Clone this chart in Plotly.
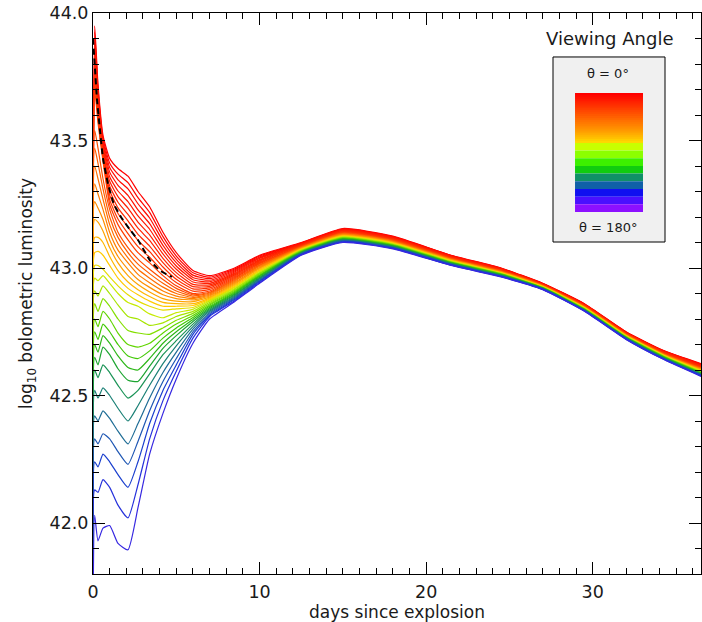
import plotly.graph_objects as go

# ---------------- data ----------------
days = [0.0, 0.1, 0.3, 0.6, 1.0, 1.5, 2.1, 2.7, 3.4, 4.2, 5.0, 6.0, 7.0, 8.5,
        10.0, 12.5, 15.0, 18.0, 21.5, 24.5, 27.0, 29.5, 32.0, 34.3, 36.5]

# log10 L at each day, one value per viewing-angle bin (theta = 0 first ... theta = 180 last)
lum_at_0_0 = [41.6, 41.6, 41.6, 41.6, 41.6, 41.6, 41.6, 41.6, 41.6, 41.6, 41.6, 41.6,
              41.6, 41.6, 41.6, 41.6, 41.6, 41.6, 41.6, 41.6, 41.6, 41.6, 41.6, 41.6,
              41.6, 41.6, 41.6, 41.6, 41.6, 41.6, 41.6, 41.6, 41.6, 41.6]
lum_at_0_1 = [43.95, 43.925, 43.90, 43.875, 43.85, 43.825, 43.80, 43.775, 43.75, 43.725, 43.70,
              43.54, 43.47, 43.40, 43.33, 43.26, 43.19, 43.12, 43.06, 43.01,
              42.96, 42.91, 42.86, 42.80, 42.75, 42.70, 42.65, 42.60, 42.52, 42.42, 42.33, 42.24, 42.13, 42.03]
lum_at_0_3 = [43.72, 43.705, 43.69, 43.675, 43.66, 43.645, 43.63, 43.615, 43.60, 43.585, 43.57,
              43.47, 43.41, 43.35, 43.29, 43.235, 43.18, 43.12, 43.065, 43.01,
              42.95, 42.89, 42.83, 42.77, 42.72, 42.67, 42.62, 42.57, 42.49, 42.40, 42.31, 42.22, 42.12, 41.93]
lum_at_0_6 = [43.52, 43.51, 43.50, 43.49, 43.48, 43.47, 43.46, 43.45, 43.44, 43.43, 43.42,
              43.35, 43.31, 43.27, 43.23, 43.19, 43.145, 43.10, 43.05, 42.995,
              42.97, 42.93, 42.88, 42.83, 42.78, 42.735, 42.69, 42.62, 42.53, 42.44, 42.35, 42.27, 42.17, 41.98]
lum_at_1_0 = [43.43, 43.412, 43.394, 43.376, 43.358, 43.34, 43.322, 43.304, 43.286, 43.268, 43.25,
              43.23, 43.20, 43.17, 43.14, 43.11, 43.08, 43.045, 43.01, 42.965,
              42.94, 42.90, 42.85, 42.80, 42.75, 42.705, 42.66, 42.59, 42.50, 42.41, 42.33, 42.24, 42.14, 41.99]
lum_at_1_5 = [43.39, 43.368, 43.346, 43.324, 43.302, 43.28, 43.258, 43.236, 43.214, 43.192, 43.17,
              43.14, 43.12, 43.095, 43.07, 43.045, 43.02, 42.99, 42.96, 42.93,
              42.90, 42.855, 42.80, 42.745, 42.70, 42.655, 42.605, 42.54, 42.45, 42.36, 42.28, 42.19, 42.07, 41.92]
lum_at_2_1 = [43.36, 43.335, 43.31, 43.285, 43.26, 43.235, 43.21, 43.185, 43.16, 43.135, 43.11,
              43.08, 43.06, 43.04, 43.02, 42.995, 42.97, 42.945, 42.92, 42.895,
              42.865, 42.81, 42.755, 42.70, 42.655, 42.61, 42.56, 42.49, 42.40, 42.31, 42.23, 42.14, 42.02, 41.895]
lum_at_2_7 = [43.30, 43.276, 43.252, 43.228, 43.204, 43.18, 43.156, 43.132, 43.108, 43.084, 43.06,
              43.035, 43.015, 42.995, 42.975, 42.955, 42.935, 42.915, 42.895, 42.87,
              42.85, 42.80, 42.745, 42.69, 42.645, 42.60, 42.555, 42.52, 42.46, 42.39, 42.32, 42.24, 42.15, 42.06]
lum_at_3_4 = [43.24, 43.218, 43.196, 43.174, 43.152, 43.13, 43.108, 43.086, 43.064, 43.042, 43.02,
              42.995, 42.978, 42.96, 42.942, 42.924, 42.906, 42.888, 42.87, 42.85,
              42.82, 42.775, 42.74, 42.705, 42.675, 42.645, 42.615, 42.585, 42.54, 42.49, 42.44, 42.39, 42.33, 42.27]
lum_at_4_2 = [43.14, 43.123, 43.106, 43.089, 43.072, 43.055, 43.038, 43.021, 43.004, 42.987, 42.97,
              42.955, 42.94, 42.925, 42.91, 42.895, 42.88, 42.865, 42.85, 42.835,
              42.805, 42.785, 42.765, 42.745, 42.725, 42.705, 42.685, 42.66, 42.625, 42.59, 42.555, 42.52, 42.48, 42.43]
lum_at_5_0 = [43.06, 43.047, 43.034, 43.021, 43.008, 42.995, 42.982, 42.969, 42.956, 42.943, 42.93,
              42.92, 42.91, 42.90, 42.89, 42.88, 42.87, 42.86, 42.85, 42.84,
              42.825, 42.81, 42.795, 42.78, 42.765, 42.75, 42.735, 42.715, 42.695, 42.67, 42.645, 42.62, 42.595, 42.565]
lum_at_6_0 = [42.99, 42.981, 42.972, 42.963, 42.954, 42.945, 42.936, 42.927, 42.918, 42.909, 42.90,
              42.895, 42.89, 42.885, 42.88, 42.875, 42.868, 42.86, 42.853, 42.845,
              42.838, 42.83, 42.822, 42.814, 42.806, 42.798, 42.79, 42.78, 42.77, 42.76, 42.75, 42.74, 42.725, 42.705]
lum_at_7_0 = [42.97, 42.964, 42.958, 42.952, 42.946, 42.94, 42.934, 42.928, 42.922, 42.916, 42.91,
              42.905, 42.902, 42.898, 42.894, 42.89, 42.886, 42.882, 42.878, 42.874,
              42.87, 42.865, 42.86, 42.855, 42.85, 42.845, 42.84, 42.835, 42.83, 42.825, 42.82, 42.815, 42.81, 42.80]
lum_at_8_5 = [43.00, 42.996, 42.992, 42.988, 42.984, 42.98, 42.976, 42.972, 42.968, 42.964, 42.96,
              42.956, 42.952, 42.948, 42.944, 42.94, 42.936, 42.932, 42.928, 42.924,
              42.92, 42.916, 42.912, 42.908, 42.904, 42.90, 42.896, 42.892, 42.888, 42.884, 42.88, 42.876, 42.872, 42.868]
lum_at_10_0 = [43.050, 43.047, 43.043, 43.040, 43.037, 43.033, 43.030, 43.027, 43.023, 43.020, 43.017,
               43.013, 43.010, 43.007, 43.003, 43.000, 42.997, 42.993, 42.990, 42.987,
               42.983, 42.980, 42.977, 42.973, 42.970, 42.967, 42.963, 42.960, 42.957, 42.953, 42.950, 42.947, 42.943, 42.940]
lum_at_12_5 = [43.100, 43.098, 43.097, 43.095, 43.094, 43.092, 43.091, 43.089, 43.088, 43.086, 43.085,
               43.083, 43.082, 43.080, 43.079, 43.077, 43.076, 43.074, 43.073, 43.071,
               43.070, 43.068, 43.067, 43.065, 43.064, 43.062, 43.061, 43.059, 43.058, 43.056, 43.055, 43.053, 43.052, 43.050]
lum_at_15_0 = [43.155, 43.153, 43.152, 43.150, 43.148, 43.147, 43.145, 43.143, 43.142, 43.140, 43.138,
               43.137, 43.135, 43.133, 43.132, 43.130, 43.128, 43.127, 43.125, 43.123,
               43.122, 43.120, 43.118, 43.117, 43.115, 43.113, 43.112, 43.110, 43.108, 43.107, 43.105, 43.103, 43.102, 43.100]
lum_at_18_0 = [43.125, 43.123, 43.122, 43.120, 43.119, 43.117, 43.116, 43.114, 43.113, 43.111, 43.110,
               43.108, 43.107, 43.105, 43.104, 43.102, 43.101, 43.099, 43.098, 43.096,
               43.095, 43.093, 43.092, 43.090, 43.089, 43.087, 43.086, 43.084, 43.083, 43.081, 43.080, 43.078, 43.077, 43.075]
lum_at_21_5 = [43.050, 43.049, 43.048, 43.046, 43.045, 43.044, 43.043, 43.042, 43.040, 43.039, 43.038,
               43.037, 43.035, 43.034, 43.033, 43.032, 43.031, 43.029, 43.028, 43.027,
               43.026, 43.025, 43.023, 43.022, 43.021, 43.020, 43.018, 43.017, 43.016, 43.015, 43.014, 43.012, 43.011, 43.010]
lum_at_24_5 = [43.000, 42.999, 42.998, 42.997, 42.996, 42.995, 42.994, 42.993, 42.992, 42.990, 42.989,
               42.988, 42.987, 42.986, 42.985, 42.984, 42.983, 42.982, 42.981, 42.980,
               42.979, 42.978, 42.977, 42.976, 42.975, 42.974, 42.972, 42.971, 42.970, 42.969, 42.968, 42.967, 42.966, 42.965]
lum_at_27_0 = [42.940, 42.939, 42.938, 42.938, 42.937, 42.936, 42.935, 42.935, 42.934, 42.933, 42.932,
               42.932, 42.931, 42.930, 42.929, 42.929, 42.928, 42.927, 42.926, 42.926,
               42.925, 42.924, 42.923, 42.923, 42.922, 42.921, 42.920, 42.920, 42.919, 42.918, 42.917, 42.917, 42.916, 42.915]
lum_at_29_5 = [42.860, 42.859, 42.858, 42.857, 42.856, 42.855, 42.855, 42.854, 42.853, 42.852, 42.851,
               42.850, 42.849, 42.848, 42.847, 42.846, 42.845, 42.845, 42.844, 42.843,
               42.842, 42.841, 42.840, 42.839, 42.838, 42.837, 42.836, 42.835, 42.835, 42.834, 42.833, 42.832, 42.831, 42.830]
lum_at_32_0 = [42.750, 42.749, 42.748, 42.747, 42.746, 42.745, 42.745, 42.744, 42.743, 42.742, 42.741,
               42.740, 42.739, 42.738, 42.737, 42.736, 42.735, 42.735, 42.734, 42.733,
               42.732, 42.731, 42.730, 42.729, 42.728, 42.727, 42.726, 42.725, 42.725, 42.724, 42.723, 42.722, 42.721, 42.720]
lum_at_34_3 = [42.675, 42.674, 42.673, 42.672, 42.671, 42.670, 42.669, 42.668, 42.667, 42.665, 42.664,
               42.663, 42.662, 42.661, 42.660, 42.659, 42.658, 42.657, 42.656, 42.655,
               42.654, 42.653, 42.652, 42.651, 42.650, 42.649, 42.647, 42.646, 42.645, 42.644, 42.643, 42.642, 42.641, 42.640]
lum_at_36_5 = [42.625, 42.623, 42.622, 42.620, 42.619, 42.617, 42.616, 42.614, 42.613, 42.611, 42.610,
               42.608, 42.607, 42.605, 42.604, 42.602, 42.601, 42.599, 42.598, 42.596,
               42.595, 42.593, 42.592, 42.590, 42.589, 42.587, 42.586, 42.584, 42.583, 42.581, 42.580, 42.578, 42.577, 42.575]

# angle-averaged light curve (black dashed)
mean_days = [0.0, 0.12, 0.24, 0.42, 0.6, 0.9, 1.26, 1.68, 2.22, 2.7, 3.42, 4.02, 4.74]
mean_lum = [43.90, 43.78, 43.66, 43.54, 43.43, 43.33, 43.25, 43.20, 43.15, 43.11, 43.03, 42.99, 42.965]

x_ticks = [0, 10, 20, 30]
y_ticks = [42.0, 42.5, 43.0, 43.5, 44.0]

# ---------------- assemble ----------------
lum_by_day = [lum_at_0_0, lum_at_0_1, lum_at_0_3, lum_at_0_6, lum_at_1_0, lum_at_1_5, lum_at_2_1,
              lum_at_2_7, lum_at_3_4, lum_at_4_2, lum_at_5_0, lum_at_6_0, lum_at_7_0, lum_at_8_5,
              lum_at_10_0, lum_at_12_5, lum_at_15_0, lum_at_18_0, lum_at_21_5, lum_at_24_5,
              lum_at_27_0, lum_at_29_5, lum_at_32_0, lum_at_34_3, lum_at_36_5]
n_curves = len(lum_at_0_1)
curves = [[col[i] for col in lum_by_day] for i in range(n_curves)]

# ---------------- styling ----------------
FONT = "DejaVu Sans"
TEXT = "#1a1a1a"
FIG_W, FIG_H = 702, 622
curve_stops = [
    (0.00, (255, 0, 0)), (0.30, (255, 60, 0)), (0.45, (255, 140, 0)),
    (0.55, (255, 205, 0)), (0.60, (205, 235, 0)), (0.66, (140, 225, 0)),
    (0.72, (70, 205, 0)), (0.78, (30, 170, 40)), (0.83, (25, 140, 100)),
    (0.87, (30, 115, 140)), (0.91, (30, 85, 180)), (0.95, (25, 55, 215)),
    (1.00, (55, 40, 225)),
]


def stop_color(stops, f):
    for (f0, c0), (f1, c1) in zip(stops[:-1], stops[1:]):
        if f <= f1:
            w = 0 if f1 == f0 else (f - f0) / (f1 - f0)
            r, g, b = (round(a + (bb - a) * w) for a, bb in zip(c0, c1))
            return f"rgb({r},{g},{b})"
    r, g, b = stops[-1][1]
    return f"rgb({r},{g},{b})"


fig = go.Figure()
for i, ys in enumerate(curves):
    fig.add_trace(go.Scatter(
        x=days, y=ys, mode="lines",
        line=dict(color=stop_color(curve_stops, i / (n_curves - 1)), width=1.2,
                  shape="spline", smoothing=0.5),
        showlegend=False, hoverinfo="skip"))

fig.add_trace(go.Scatter(
    x=mean_days, y=mean_lum, mode="lines",
    line=dict(color="black", width=2, dash="6px,4px", shape="spline", smoothing=0.5),
    showlegend=False, hoverinfo="skip"))

# colour key (legend graphic): smooth red->yellow top part, discrete bands below
smooth_stops = [(0.0, (255, 0, 0)), (0.4, (255, 80, 0)), (0.75, (255, 150, 0)), (1.0, (255, 215, 0))]
n_smooth = 26
key_colors = [stop_color(smooth_stops, k / (n_smooth - 1)) for k in range(n_smooth)]
key_heights = [0.25] * n_smooth
band_colors = ["#c8ff00", "#8cff00", "#3cf000", "#10cc10", "#109068",
               "#1060a8", "#1010f0", "#4a10ff", "#8c10ff"]
key_colors += band_colors
key_heights += [1.0] * len(band_colors)
total_h = sum(key_heights)
key_bases = []
top = total_h
for h in key_heights:
    key_bases.append(top - h)
    top -= h

fig.add_trace(go.Bar(
    x=[0] * len(key_colors), y=key_heights, base=key_bases, width=1,
    marker=dict(color=key_colors, line=dict(width=0)),
    xaxis="x2", yaxis="y2", showlegend=False, hoverinfo="skip"))

axis_common = dict(
    showline=True, linecolor="black", linewidth=1, mirror="allticks",
    ticks="inside", tickcolor="black", tickwidth=1, ticklen=12,
    showgrid=False, zeroline=False, ticklabeloverflow="allow",
    tickfont=dict(family=FONT, size=17.5, color=TEXT),
)

fig.update_layout(
    width=FIG_W, height=FIG_H,
    margin=dict(l=93, r=1, t=13, b=48, autoexpand=False),
    paper_bgcolor="white", plot_bgcolor="white",
    hovermode=False, barmode="overlay",
    xaxis=dict(
        range=[0, 36.5], tickvals=x_ticks, ticktext=[str(v) for v in x_ticks],
        minor=dict(ticks="inside", ticklen=6, dtick=1, tick0=0, tickcolor="black", tickwidth=1),
        ticklabelstandoff=2,
        title=dict(text="days since explosion", font=dict(family=FONT, size=17, color=TEXT), standoff=10),
        **axis_common),
    yaxis=dict(
        range=[41.8, 44.0], tickvals=y_ticks, ticktext=[f"{v:.1f}" for v in y_ticks],
        minor=dict(ticks="inside", ticklen=6, dtick=0.1, tick0=42.0, tickcolor="black", tickwidth=1),
        title=dict(text="log<sub>10</sub> bolometric luminosity", font=dict(family=FONT, size=17, color=TEXT), standoff=12),
        **axis_common),
    xaxis2=dict(domain=[0.7928, 0.9046], range=[-0.5, 0.5], visible=False, anchor="y2", fixedrange=True),
    yaxis2=dict(domain=[0.6453, 0.8574], range=[0, total_h], visible=False, anchor="x2", fixedrange=True),
    shapes=[dict(type="rect", xref="paper", yref="paper", x0=0.7566, x1=0.9408, y0=0.5918, y1=0.9216,
                 fillcolor="#f0f0f0", line=dict(color="black", width=1), layer="below")],
    annotations=[
        dict(text="Viewing Angle", x=0.8503, y=0.9554, xref="paper", yref="paper", showarrow=False,
             font=dict(family=FONT, size=18, color=TEXT), xanchor="center", yanchor="middle"),
        dict(text="θ = 0°", x=0.847, y=0.893, xref="paper", yref="paper", showarrow=False,
             font=dict(family=FONT, size=13, color=TEXT), xanchor="center", yanchor="middle"),
        dict(text="θ = 180°", x=0.847, y=0.6185, xref="paper", yref="paper", showarrow=False,
             font=dict(family=FONT, size=13, color=TEXT), xanchor="center", yanchor="middle"),
    ],
)

# remove the browser's default 8px page margin so the 702x622 figure fills the window
fig.write_html("out.html", config={"displayModeBar": False},
               post_script="document.body.style.margin='0';document.body.style.overflow='hidden';")
